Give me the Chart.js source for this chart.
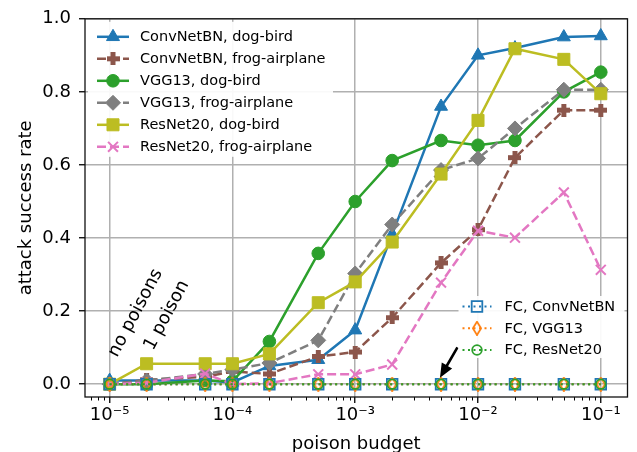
<!DOCTYPE html>
<html>
<head>
<meta charset="utf-8">
<script src="https://cdn.jsdelivr.net/npm/chart.js@4/dist/chart.umd.min.js"></script>
<style>
  html, body { margin: 0; padding: 0; background: #fff; }
</style>
</head>
<body>
<canvas id="chart" width="637" height="452"></canvas>
<script>
// poison budget (fraction of the training set)
const budgets = [1e-5, 2e-5, 6e-5, 1e-4, 2e-4, 5e-4, 1e-3, 2e-3, 5e-3, 1e-2, 2e-2, 5e-2, 1e-1];

const convnetDogBird   = [0.01, 0.01, 0.01, 0.005, 0.05, 0.067, 0.148, 0.41, 0.76, 0.90, 0.92, 0.95, 0.953];
const convnetFrogPlane = [0.0, 0.012, 0.02, 0.035, 0.028, 0.076, 0.088, 0.182, 0.332, 0.423, 0.62, 0.75, 0.75];
const vggDogBird       = [0.0, 0.0, 0.01, 0.008, 0.117, 0.358, 0.50, 0.612, 0.667, 0.654, 0.667, 0.80, 0.854];
const vggFrogPlane     = [0.0, 0.01, 0.028, 0.04, 0.058, 0.12, 0.303, 0.437, 0.586, 0.618, 0.70, 0.806, 0.806];
const resnetDogBird    = [0.0, 0.056, 0.056, 0.056, 0.083, 0.223, 0.28, 0.389, 0.575, 0.722, 0.918, 0.889, 0.795];
const resnetFrogPlane  = [0.0, 0.004, 0.029, 0.0, 0.003, 0.027, 0.027, 0.054, 0.278, 0.42, 0.401, 0.525, 0.313];
const fcConvnet        = [0, 0, 0, 0, 0, 0, 0, 0, 0, 0, 0, 0, 0];
const fcVgg            = [0, 0, 0, 0, 0, 0, 0, 0, 0, 0, 0, 0, 0];
const fcResnet         = [0, 0, 0, 0, 0, 0, 0, 0, 0, 0, 0, 0, 0];

const seriesLabels = [
  'ConvNetBN, dog-bird', 'ConvNetBN, frog-airplane', 'VGG13, dog-bird',
  'VGG13, frog-airplane', 'ResNet20, dog-bird', 'ResNet20, frog-airplane',
  'FC, ConvNetBN', 'FC, VGG13', 'FC, ResNet20'
];

const xTicks = [1e-5, 1e-4, 1e-3, 1e-2, 1e-1];
const xTickLabels = ['10⁻⁵', '10⁻⁴', '10⁻³', '10⁻²', '10⁻¹'];
const yTicks = [0.0, 0.2, 0.4, 0.6, 0.8, 1.0];

Chart.defaults.font.family = '"DejaVu Sans", sans-serif';
Chart.defaults.font.size = 18;
Chart.defaults.color = '#000';

// matplotlib-ish markers that chart.js doesn't have
function plusMarker(color, size, arm) {
  const c = document.createElement('canvas');
  c.width = size; c.height = size;
  const g = c.getContext('2d');
  g.fillStyle = color;
  const a = (size - arm) / 2;
  g.fillRect(a, 0, arm, size);
  g.fillRect(0, a, size, arm);
  return c;
}

function thinDiamond(color, w, h, lw) {
  const c = document.createElement('canvas');
  c.width = w; c.height = h;
  const g = c.getContext('2d');
  g.strokeStyle = color;
  g.lineWidth = lw;
  g.beginPath();
  g.moveTo(w / 2, lw / 2);
  g.lineTo(w - lw / 2, h / 2);
  g.lineTo(w / 2, h - lw / 2);
  g.lineTo(lw / 2, h / 2);
  g.closePath();
  g.stroke();
  return c;
}

function series(i, data, color, style, extra) {
  return Object.assign({
    label: seriesLabels[i],
    data: budgets.map((x, k) => ({ x: x, y: data[k] })),
    borderColor: color,
    backgroundColor: color,
    pointBackgroundColor: color,
    pointBorderColor: color,
    borderWidth: 2.5,
    pointStyle: style,
    pointRadius: 6,
    pointHoverRadius: 6,
    pointBorderWidth: 1,
    tension: 0,
    fill: false,
    order: 20 - i   // later series on top, like matplotlib
  }, extra || {});
}

const DASH = [9, 4];
const DOT = [2, 3.5];

const datasets = [
  series(0, convnetDogBird, '#1f77b4', 'triangle', { pointRadius: 7.5 }),
  series(1, convnetFrogPlane, '#8c564b', plusMarker('#8c564b', 13, 5), { borderDash: DASH }),
  series(2, vggDogBird, '#2ca02c', 'circle', { pointRadius: 6.3 }),
  series(3, vggFrogPlane, '#7f7f7f', 'rectRot', { borderDash: DASH, pointRadius: 7.5 }),
  series(4, resnetDogBird, '#bcbd22', 'rect', { pointRadius: 8.5 }),
  series(5, resnetFrogPlane, '#e377c2', 'crossRot', { borderDash: DASH, pointRadius: 7, pointBorderWidth: 2 }),
  series(6, fcConvnet, '#1f77b4', 'rect', { borderDash: DOT, borderWidth: 2, pointRadius: 7.5, pointBorderWidth: 1.8, pointBackgroundColor: 'rgba(0,0,0,0)' }),
  series(7, fcVgg, '#ff7f0e', thinDiamond('#ff7f0e', 10, 15, 1.8), { borderDash: DOT, borderWidth: 2 }),
  series(8, fcResnet, '#2ca02c', 'circle', { borderDash: DOT, borderWidth: 2, pointRadius: 4.8, pointBorderWidth: 1.8, pointBackgroundColor: 'rgba(0,0,0,0)' })
];

function drawLegend(ctx, chart, idxs, box, lineX0, lineX1, textX, rowY) {
  ctx.save();
  ctx.fillStyle = 'rgba(255,255,255,0.92)';
  ctx.fillRect(box.x, box.y, box.w, box.h);
  idxs.forEach((di, k) => {
    const ds = chart.data.datasets[di];
    const y = rowY[k];
    ctx.strokeStyle = ds.borderColor;
    ctx.lineWidth = ds.borderWidth;
    ctx.setLineDash(ds.borderDash || []);
    ctx.beginPath();
    ctx.moveTo(lineX0, y);
    ctx.lineTo(lineX1, y);
    ctx.stroke();
    ctx.setLineDash([]);
    ctx.fillStyle = ds.pointBackgroundColor;
    ctx.strokeStyle = ds.pointBorderColor;
    ctx.lineWidth = ds.pointBorderWidth;
    Chart.helpers.drawPoint(ctx, {
      pointStyle: ds.pointStyle, radius: ds.pointRadius,
      borderWidth: ds.pointBorderWidth, rotation: 0
    }, (lineX0 + lineX1) / 2, y);
    ctx.fillStyle = '#000';
    ctx.font = '14.5px "DejaVu Sans"';
    ctx.textAlign = 'left';
    ctx.textBaseline = 'middle';
    ctx.fillText(ds.label, textX, y + 0.5);
  });
  ctx.restore();
}

const decor = {
  id: 'decor',
  afterDatasetsDraw(chart) {
    const { ctx, chartArea: a, scales: { x, y } } = chart;

    // rotated notes near the left end
    const notes = [
      { text: 'no poisons', x: 1.15e-5, y: 0.072 },
      { text: '1 poison', x: 2.25e-5, y: 0.09 }
    ];
    ctx.save();
    ctx.fillStyle = '#000';
    ctx.font = '18px "DejaVu Sans"';
    ctx.textAlign = 'left';
    ctx.textBaseline = 'alphabetic';
    notes.forEach(n => {
      ctx.save();
      ctx.translate(x.getPixelForValue(n.x), y.getPixelForValue(n.y));
      ctx.rotate(-62 * Math.PI / 180);
      ctx.fillText(n.text, 0, 0);
      ctx.restore();
    });

    // arrow pointing at the 5e-3 FC point
    const tx = x.getPixelForValue(6.8e-3), ty = y.getPixelForValue(0.101);
    const hx = x.getPixelForValue(4.9e-3), hy = y.getPixelForValue(0.018);
    const ang = Math.atan2(hy - ty, hx - tx);
    const len = Math.hypot(hx - tx, hy - ty);
    ctx.translate(tx, ty);
    ctx.rotate(ang);
    ctx.beginPath();
    ctx.moveTo(0, -1.3);
    ctx.lineTo(len - 14, -1.3);
    ctx.lineTo(len - 14, -6);
    ctx.lineTo(len, 0);
    ctx.lineTo(len - 14, 6);
    ctx.lineTo(len - 14, 1.3);
    ctx.lineTo(0, 1.3);
    ctx.closePath();
    ctx.fill();
    ctx.restore();

    drawLegend(ctx, chart, [0, 1, 2, 3, 4, 5],
      { x: a.left + 3, y: a.top + 3, w: 245, h: 135 },
      a.left + 12, a.left + 44, a.left + 55,
      [a.top + 18, a.top + 40, a.top + 62, a.top + 84, a.top + 106, a.top + 128]);
    drawLegend(ctx, chart, [6, 7, 8],
      { x: a.right - 169, y: a.bottom - 101, w: 166, h: 62 },
      a.right - 165, a.right - 136, a.right - 123,
      [a.bottom - 90.5, a.bottom - 68.7, a.bottom - 47]);
  },
  afterDraw(chart) {
    const { ctx, chartArea: a, scales: { x } } = chart;
    ctx.save();
    // minor ticks on the log axis
    ctx.strokeStyle = '#000';
    ctx.lineWidth = 1;
    for (let d = -6; d <= -1; d++) {
      for (let k = 2; k <= 9; k++) {
        const v = k * Math.pow(10, d);
        if (v < x.min || v > x.max) continue;
        const px = Math.round(x.getPixelForValue(v)) + 0.5;
        ctx.beginPath();
        ctx.moveTo(px, a.bottom);
        ctx.lineTo(px, a.bottom + 3.5);
        ctx.stroke();
      }
    }
    // axes frame
    ctx.lineWidth = 1.3;
    ctx.strokeStyle = '#111';
    ctx.strokeRect(a.left, a.top, a.right - a.left, a.bottom - a.top);
    ctx.restore();
  }
};

new Chart(document.getElementById('chart'), {
  type: 'line',
  data: { datasets: datasets },
  options: {
    responsive: false,
    animation: false,
    layout: { padding: { top: 15, right: 2, left: 0, bottom: 0 } },
    plugins: {
      legend: { display: false },
      tooltip: { enabled: false }
    },
    scales: {
      x: {
        type: 'logarithmic',
        min: 6.3e-6,
        max: 0.165,
        afterBuildTicks: (axis) => { axis.ticks = xTicks.map(v => ({ value: v })); },
        afterFit: (axis) => { axis.height = 55; },
        ticks: {
          autoSkip: false,
          maxRotation: 0,
          padding: 2,
          font: { size: 18 },
          callback: (v) => xTickLabels[xTicks.indexOf(v)] || ''
        },
        grid: { color: '#b0b0b0', lineWidth: 1.5, tickColor: '#000', tickLength: 6, tickWidth: 1.3 },
        border: { display: false },
        title: { display: true, text: 'poison budget', font: { size: 18, lineHeight: 0.85 }, padding: { top: 0, bottom: 0 } }
      },
      y: {
        type: 'linear',
        min: -0.035,
        max: 1.0,
        afterBuildTicks: (axis) => { axis.ticks = yTicks.map(v => ({ value: v })); },
        afterFit: (axis) => { axis.width = 85; },
        ticks: {
          padding: 8,
          font: { size: 18 },
          callback: (v) => v.toFixed(1)
        },
        grid: { color: '#b0b0b0', lineWidth: 1.5, tickColor: '#000', tickLength: 6, tickWidth: 1.3 },
        border: { display: false },
        title: { display: true, text: 'attack success rate', font: { size: 18, lineHeight: 1.2 }, padding: { top: 16, bottom: 0 } }
      }
    }
  },
  plugins: [decor]
});
</script>
</body>
</html>
